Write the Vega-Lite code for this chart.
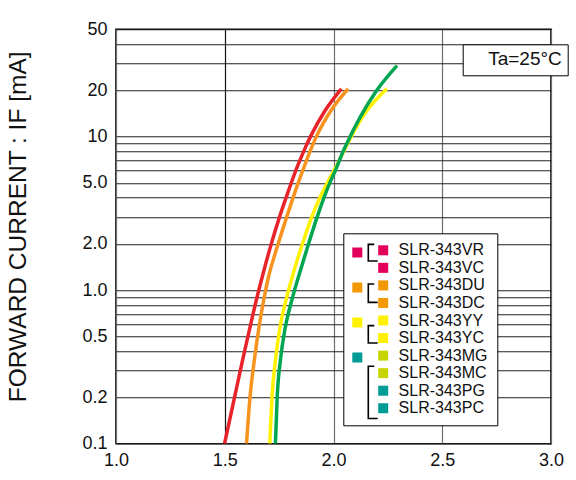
{
  "$schema": "https://vega.github.io/schema/vega-lite/v6.json",
  "width": 435,
  "height": 414.4,
  "autosize": {"type": "none"},
  "padding": {"left": 116, "top": 29.3, "right": 25, "bottom": 36.3},
  "background": "white",
  "datasets": {
    "curves": [
      {"curve": "VR/VC", "V": 1.499, "I": 0.1},
      {"curve": "VR/VC", "V": 1.545, "I": 0.2},
      {"curve": "VR/VC", "V": 1.582, "I": 0.35},
      {"curve": "VR/VC", "V": 1.617, "I": 0.58},
      {"curve": "VR/VC", "V": 1.645, "I": 0.86},
      {"curve": "VR/VC", "V": 1.671, "I": 1.2},
      {"curve": "VR/VC", "V": 1.706, "I": 1.83},
      {"curve": "VR/VC", "V": 1.752, "I": 3.0},
      {"curve": "VR/VC", "V": 1.792, "I": 4.4},
      {"curve": "VR/VC", "V": 1.834, "I": 6.4},
      {"curve": "VR/VC", "V": 1.866, "I": 8.2},
      {"curve": "VR/VC", "V": 1.894, "I": 10},
      {"curve": "VR/VC", "V": 1.963, "I": 14.9},
      {"curve": "VR/VC", "V": 2.036, "I": 20.5},
      {"curve": "DU/DC", "V": 1.600, "I": 0.1},
      {"curve": "DU/DC", "V": 1.616, "I": 0.2},
      {"curve": "DU/DC", "V": 1.636, "I": 0.35},
      {"curve": "DU/DC", "V": 1.658, "I": 0.58},
      {"curve": "DU/DC", "V": 1.679, "I": 0.86},
      {"curve": "DU/DC", "V": 1.700, "I": 1.2},
      {"curve": "DU/DC", "V": 1.737, "I": 1.83},
      {"curve": "DU/DC", "V": 1.785, "I": 3.0},
      {"curve": "DU/DC", "V": 1.824, "I": 4.4},
      {"curve": "DU/DC", "V": 1.862, "I": 6.2},
      {"curve": "DU/DC", "V": 1.895, "I": 8.2},
      {"curve": "DU/DC", "V": 1.921, "I": 10},
      {"curve": "DU/DC", "V": 1.990, "I": 14.9},
      {"curve": "DU/DC", "V": 2.067, "I": 20.5},
      {"curve": "YY/YC", "V": 1.707, "I": 0.1},
      {"curve": "YY/YC", "V": 1.717, "I": 0.2},
      {"curve": "YY/YC", "V": 1.733, "I": 0.35},
      {"curve": "YY/YC", "V": 1.752, "I": 0.55},
      {"curve": "YY/YC", "V": 1.770, "I": 0.74},
      {"curve": "YY/YC", "V": 1.784, "I": 0.89},
      {"curve": "YY/YC", "V": 1.815, "I": 1.29},
      {"curve": "YY/YC", "V": 1.858, "I": 2.02},
      {"curve": "YY/YC", "V": 1.900, "I": 3.0},
      {"curve": "YY/YC", "V": 1.940, "I": 4.07},
      {"curve": "YY/YC", "V": 1.972, "I": 5.0},
      {"curve": "YY/YC", "V": 2.004, "I": 6.07},
      {"curve": "YY/YC", "V": 2.047, "I": 8.0},
      {"curve": "YY/YC", "V": 2.073, "I": 9.5},
      {"curve": "YY/YC", "V": 2.145, "I": 14.2},
      {"curve": "YY/YC", "V": 2.245, "I": 20.5},
      {"curve": "MG/MC/PG/PC", "V": 1.733, "I": 0.1},
      {"curve": "MG/MC/PG/PC", "V": 1.741, "I": 0.2},
      {"curve": "MG/MC/PG/PC", "V": 1.756, "I": 0.35},
      {"curve": "MG/MC/PG/PC", "V": 1.776, "I": 0.55},
      {"curve": "MG/MC/PG/PC", "V": 1.796, "I": 0.74},
      {"curve": "MG/MC/PG/PC", "V": 1.811, "I": 0.89},
      {"curve": "MG/MC/PG/PC", "V": 1.844, "I": 1.29},
      {"curve": "MG/MC/PG/PC", "V": 1.886, "I": 2.02},
      {"curve": "MG/MC/PG/PC", "V": 1.925, "I": 3.0},
      {"curve": "MG/MC/PG/PC", "V": 1.958, "I": 4.07},
      {"curve": "MG/MC/PG/PC", "V": 1.983, "I": 5.0},
      {"curve": "MG/MC/PG/PC", "V": 2.006, "I": 5.9},
      {"curve": "MG/MC/PG/PC", "V": 2.044, "I": 8.0},
      {"curve": "MG/MC/PG/PC", "V": 2.064, "I": 9.2},
      {"curve": "MG/MC/PG/PC", "V": 2.124, "I": 13.5},
      {"curve": "MG/MC/PG/PC", "V": 2.200, "I": 20.1},
      {"curve": "MG/MC/PG/PC", "V": 2.292, "I": 29}
    ],
    "products": [
      {"product": "SLR-343VR"}, {"product": "SLR-343VC"},
      {"product": "SLR-343DU"}, {"product": "SLR-343DC"},
      {"product": "SLR-343YY"}, {"product": "SLR-343YC"},
      {"product": "SLR-343MG"}, {"product": "SLR-343MC"},
      {"product": "SLR-343PG"}, {"product": "SLR-343PC"}
    ],
    "families": [
      {"family": "red"}, {"family": "orange"}, {"family": "yellow"}, {"family": "green"}
    ],
    "brackets": [
      {"bracket": "VR-VC"}, {"bracket": "DU-DC"}, {"bracket": "YY-YC"}, {"bracket": "MG-PC"}
    ],
    "conditions": [{"note": "Ta=25°C"}]
  },
  "layer": [
    {
      "data": {"name": "curves"},
      "mark": {"type": "line", "strokeWidth": 3.5, "interpolate": "monotone", "clip": true},
      "encoding": {
        "x": {
          "field": "V", "type": "quantitative",
          "scale": {"domain": [1, 3], "nice": false, "zero": false},
          "axis": {
            "values": [1, 1.5, 2, 2.5, 3], "format": ".1f", "title": null,
            "grid": true, "gridWidth": 1.2,
            "gridColor": {"condition": {"test": "datum.value === 1.5", "value": "#111111"}, "value": "#6e6e6e"},
            "domain": false, "ticks": false, "labelFlush": false,
            "labelFontSize": 18, "labelPadding": 8, "labelColor": "#111111"
          }
        },
        "y": {
          "field": "I", "type": "quantitative",
          "scale": {"type": "log", "domain": [0.1, 50], "nice": false},
          "axis": {
            "values": [0.1, 0.2, 0.3, 0.4, 0.5, 0.6, 0.7, 0.8, 0.9, 1, 2, 3, 4, 5, 6, 7, 8, 9, 10, 20, 30, 40, 50],
            "labelExpr": "indexof([0.1, 0.2, 0.5, 1, 2, 5, 10, 20, 50], datum.value) >= 0 ? (datum.value < 10 ? format(datum.value, '.1f') : format(datum.value, 'd')) : ''",
            "labelOverlap": false, "labelFlush": false,
            "grid": true, "gridColor": "#222222", "gridWidth": 1.1,
            "domain": false, "ticks": false,
            "labelFontSize": 18, "labelPadding": 9, "labelColor": "#111111",
            "title": "FORWARD CURRENT : IF [mA]",
            "titleFontSize": 24.5, "titleFontWeight": "normal", "titleColor": "#111111",
            "titleX": -98, "titleY": 197, "titleAngle": 270,
            "titleAlign": "center", "titleBaseline": "middle"
          }
        },
        "stroke": {
          "field": "curve", "type": "nominal",
          "scale": {
            "domain": ["VR/VC", "DU/DC", "YY/YC", "MG/MC/PG/PC"],
            "range": ["#e8232a", "#f7931e", "#fff200", "#00a650"]
          },
          "legend": null
        }
      }
    },
    {
      "data": {"name": "products"},
      "mark": {"type": "point", "shape": "square", "filled": true, "opacity": 0},
      "encoding": {
        "color": {
          "field": "product", "type": "nominal",
          "scale": {
            "domain": ["SLR-343VR", "SLR-343VC", "SLR-343DU", "SLR-343DC", "SLR-343YY", "SLR-343YC", "SLR-343MG", "SLR-343MC", "SLR-343PG", "SLR-343PC"],
            "range": ["#e3005b", "#e3005b", "#f39800", "#f39800", "#fff100", "#fff100", "#c8d400", "#c8d400", "#009b95", "#009b95"]
          },
          "legend": {
            "title": null, "orient": "none", "legendX": 227.3, "legendY": 204,
            "direction": "vertical", "symbolType": "square", "symbolSize": 100,
            "symbolStrokeWidth": 0, "symbolOpacity": 1, "symbolOffset": 22.9, "labelOffset": 7.4,
            "labelFontSize": 16, "labelColor": "#111111", "labelLimit": 300,
            "labelExpr": "datum.label + '      '",
            "rowPadding": 1.55, "padding": 9, "zindex": 1,
            "fillColor": "white", "strokeColor": "black"
          }
        }
      }
    },
    {
      "data": {"name": "families"},
      "mark": {"type": "square", "opacity": 0},
      "encoding": {
        "fill": {
          "field": "family", "type": "nominal",
          "scale": {
            "domain": ["red", "orange", "yellow", "green"],
            "range": ["#e3005b", "#f39800", "#fff100", "#009b95"]
          },
          "legend": {
            "title": null, "orient": "none", "legendX": 236.3, "legendY": 218.2,
            "direction": "vertical", "symbolType": "square", "symbolSize": 100,
            "symbolStrokeWidth": 0, "symbolOpacity": 1,
            "labelExpr": "''", "labelFontSize": 10, "labelOffset": 0,
            "rowPadding": 25, "padding": 0, "zindex": 3
          }
        }
      }
    },
    {
      "data": {"name": "brackets"},
      "mark": {"type": "point", "filled": false, "color": "black", "opacity": 0},
      "encoding": {
        "shape": {
          "field": "bracket", "type": "nominal",
          "scale": {
            "domain": ["VR-VC", "DU-DC", "YY-YC", "MG-PC"],
            "range": [
              "M 6 0 L 0 0 L 0 16.6 L 9.4 16.6",
              "M 6 0 L 0 0 L 0 18.4 L 9.4 18.4",
              "M 6 0 L 0 0 L 0 17.4 L 9.4 17.4",
              "M 6 0 L 0 0 L 0 52.3 L 9.4 52.3"
            ]
          },
          "legend": {
            "title": null, "orient": "none", "legendX": 250.3, "legendY": 213.1,
            "direction": "vertical", "symbolSize": 4,
            "symbolStrokeColor": "black", "symbolFillColor": "transparent",
            "symbolStrokeWidth": 1.6, "symbolOpacity": 1,
            "labelExpr": "''", "labelFontSize": 1, "labelOffset": 0,
            "rowPadding": 15.6, "padding": 0, "zindex": 3
          }
        }
      }
    },
    {
      "data": {"name": "conditions"},
      "mark": {"type": "point", "opacity": 0},
      "encoding": {
        "strokeDash": {
          "field": "note", "type": "nominal",
          "scale": {"range": [[1, 0]]},
          "legend": {
            "title": null, "orient": "none", "legendX": 346.7, "legendY": 15,
            "symbolSize": 0, "symbolOpacity": 0, "symbolStrokeWidth": 0,
            "labelFontSize": 19, "labelOffset": 1, "labelColor": "#111111",
            "padding": 5.5, "fillColor": "white", "strokeColor": "black", "zindex": 1
          }
        }
      }
    }
  ],
  "config": {
    "font": "Liberation Sans",
    "view": {"stroke": "black", "strokeWidth": 1.6}
  }
}
